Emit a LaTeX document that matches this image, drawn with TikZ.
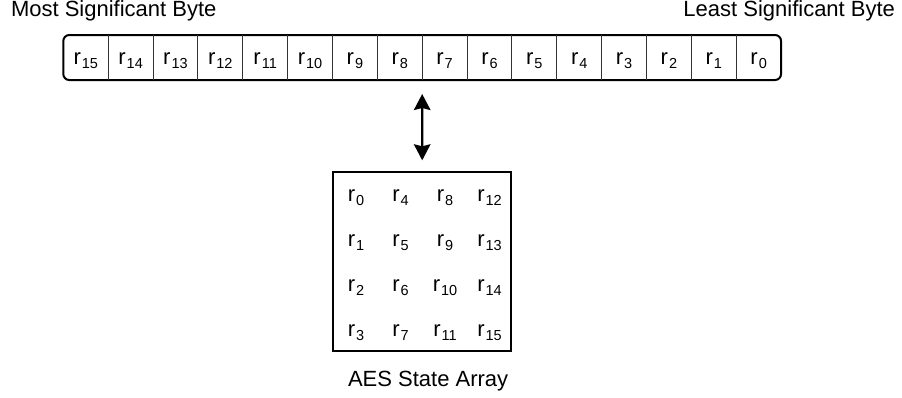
\documentclass[tikz,border=0pt]{standalone}
\usepackage{fontspec}
\setmainfont{Liberation Sans}
\usetikzlibrary{arrows.meta}
\newcommand\regsub[1]{r\kern1pt\raisebox{-3.5pt}{\fontsize{14.5}{15}\selectfont #1}}
\begin{document}
\begin{tikzpicture}[x=1pt,y=-1pt,
  lbl/.style={font=\fontsize{22}{26}\selectfont, inner sep=0pt, outer sep=0pt},
  cellbox/.style={lbl, minimum width=44.86pt, minimum height=45pt, text height=14pt, text depth=0pt},
  bytebar/.style={draw, line width=2pt, rounded corners=6pt},
  divider/.style={draw=black!80, line width=0.9pt},
  statebox/.style={draw, line width=2pt, inner sep=0pt, minimum width=177.7pt, minimum height=178.4pt},
  biarrow/.style={line width=2.2pt, {Stealth[length=16pt,width=16.5pt,inset=2pt]}-{Stealth[length=16pt,width=16.5pt,inset=2pt]}}
]
\useasboundingbox (0,0) rectangle (902,397);

% byte labels
\node[lbl, anchor=base west] (msb) at (11,16.7) {Most Significant Byte};
\node[lbl, anchor=base east] (lsb) at (895,16.7) {Least Significant Byte};

% cells of the byte string
\foreach \i in {0,...,15}{
  \pgfmathtruncatemacro{\k}{15-\i}
  \node[cellbox] (c\k) at ({63.3+44.86*(\i+0.5)},57.5) {\regsub{\k}};
}
\draw[bytebar] (c15.north west) rectangle (c0.south east);
\foreach \k in {15,...,1}{
  \draw[divider] (c\k.north east) -- (c\k.south east);
}

% state array
\node[statebox] (state) at (422.2,261.5) {};
\foreach \col/\x in {0/356,1/400.5,2/445,3/489.5}{
  \foreach \row/\y in {0/201.7,1/246.7,2/291.7,3/336.7}{
    \pgfmathtruncatemacro{\n}{4*\col+\row}
    \node[lbl, anchor=base] (g\n) at (\x,\y) {\regsub{\n}};
  }
}
\node[lbl, anchor=base west] (cap) at (348,386) {AES State Array};

% arrow
\draw[biarrow] ([yshift=-14pt]c8.south east) -- ([yshift=11pt]state.north);
\end{tikzpicture}
\end{document}
